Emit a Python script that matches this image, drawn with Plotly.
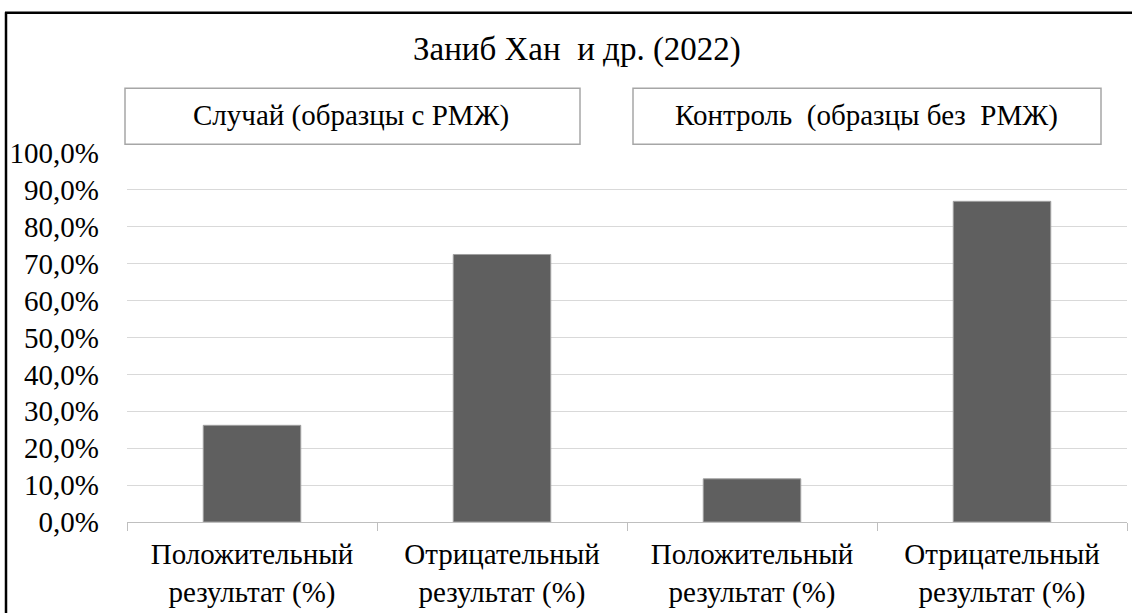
import plotly.graph_objects as go

categories = ["pos_case", "neg_case", "pos_ctrl", "neg_ctrl"]
tick_labels = ["Положительный<br>результат (%)", "Отрицательный<br>результат (%)",
               "Положительный<br>результат (%)", "Отрицательный<br>результат (%)"]
values = [0.262, 0.725, 0.117, 0.869]
title_text = "Заниб Хан  и др. (2022)"
group_labels = ["Случай (образцы с РМЖ)", "Контроль  (образцы без  РМЖ)"]
y_ticks = [i / 10 for i in range(11)]
y_tick_text = [f"{v*100:.1f}%".replace(".", ",") for v in y_ticks]

W, H = 1132, 613
L, R, T, B = 127, 5, 152.7, 91.3
pw, ph = W - L - R, H - T - B

def px_x(x):
    return (x - L) / pw

def px_y(y):
    return (H - B - y) / ph

FONT = "Liberation Serif"

fig = go.Figure()
fig.add_trace(go.Bar(
    x=categories, y=values,
    marker=dict(color="#5f5f5f", line=dict(color="#a0a0a0", width=1)),
    width=0.39,
))

shapes = [
    # outer frame (left and top)
    dict(type="line", xref="paper", yref="paper", x0=px_x(6), x1=px_x(6), y0=px_y(12), y1=px_y(613),
         line=dict(color="black", width=2.5)),
    dict(type="line", xref="paper", yref="paper", x0=px_x(5), x1=px_x(1132), y0=px_y(12.5), y1=px_y(12.5),
         line=dict(color="black", width=2.5)),
    # group boxes
    dict(type="rect", xref="paper", yref="paper", x0=px_x(125), x1=px_x(580), y0=px_y(88), y1=px_y(144),
         line=dict(color="#a6a6a6", width=1.5), fillcolor="white"),
    dict(type="rect", xref="paper", yref="paper", x0=px_x(633), x1=px_x(1101), y0=px_y(88), y1=px_y(144),
         line=dict(color="#a6a6a6", width=1.5), fillcolor="white"),
]

annotations = [
    dict(text=title_text, xref="paper", yref="paper", x=px_x(577), y=px_y(49), showarrow=False,
         font=dict(family=FONT, size=33, color="black"), xanchor="center", yanchor="middle"),
    dict(text=group_labels[0], xref="paper", yref="paper", x=px_x(351), y=px_y(115), showarrow=False,
         font=dict(family=FONT, size=29, color="black"), xanchor="center", yanchor="middle"),
    dict(text=group_labels[1], xref="paper", yref="paper", x=px_x(866), y=px_y(115), showarrow=False,
         font=dict(family=FONT, size=29, color="black"), xanchor="center", yanchor="middle"),
]

fig.update_layout(
    width=W, height=H,
    margin=dict(l=L, r=R, t=T, b=B, pad=0),
    paper_bgcolor="white", plot_bgcolor="white",
    showlegend=False,
    bargap=0.61,
    shapes=shapes,
    annotations=annotations,
    font=dict(family=FONT, color="black"),
)
fig.update_xaxes(
    type="category",
    tickmode="array", tickvals=categories, ticktext=tick_labels,
    tickson="boundaries", ticks="outside", ticklen=8, tickcolor="#bfbfbf", tickwidth=1,
    showline=True, linecolor="#bfbfbf", linewidth=1,
    showgrid=False,
    tickfont=dict(family=FONT, size=29, color="black"),
    ticklabelstandoff=6,
    range=[-0.5, 3.5],
)
fig.update_yaxes(
    range=[0, 1],
    tickmode="array", tickvals=y_ticks, ticktext=y_tick_text,
    showgrid=True, gridcolor="#d9d9d9", gridwidth=1,
    zeroline=False, showline=False, ticks="",
    tickfont=dict(family=FONT, size=29, color="black"),
    ticklabelstandoff=27,
)

fig.write_html("out.html", config={"displayModeBar": False},
               post_script="document.body.style.margin='0';")
